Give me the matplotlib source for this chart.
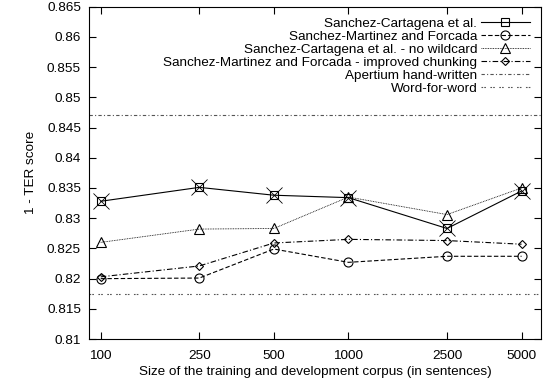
import matplotlib
matplotlib.use("Agg")
import matplotlib.pyplot as plt

plt.rcParams['font.family'] = ['Liberation Sans', 'DejaVu Sans']

# ukuran korpus (kalimat)
sizes = [100, 250, 500, 1000, 2500, 5000]

# nilai 1 - TER
sc = [0.8328, 0.8351, 0.8338, 0.8334, 0.8283, 0.8345]
smf = [0.8200, 0.8201, 0.8249, 0.8227, 0.8237, 0.8237]
sc_nowild = [0.8260, 0.8282, 0.8283, 0.8335, 0.8306, 0.8350]
smf_chunk = [0.8203, 0.8221, 0.8259, 0.8265, 0.8263, 0.8257]

apertium = 0.8470
word_for_word = 0.8174

xticks = [100, 250, 500, 1000, 2500, 5000]
yticks = [0.81, 0.815, 0.82, 0.825, 0.83, 0.835, 0.84, 0.845, 0.85, 0.855, 0.86, 0.865]

fs = 9.7

fig = plt.figure(figsize=(5.45, 3.88), dpi=100)
ax = fig.add_axes([0.164, 0.126, 0.829, 0.857])

lw = 0.8
ax.plot(sizes, sc, color='black', lw=lw, ls='-', marker='s', ms=6, mfc='none', mew=0.8,
        label='Sanchez-Cartagena et al.')
ax.plot(sizes, smf, color='black', lw=lw, ls=(0, (4, 2)), marker='o', ms=6.5, mfc='none', mew=0.8,
        label='Sanchez-Martinez and Forcada')
ax.plot(sizes, sc_nowild, color='black', lw=0.6, ls=(0, (1, 1)), marker='^', ms=6.5, mfc='none', mew=0.8,
        label='Sanchez-Cartagena et al. - no wildcard')
ax.plot(sizes, smf_chunk, color='black', lw=lw, ls=(0, (5, 2, 1, 2)), marker='D', ms=4.5, mfc='none', mew=0.8,
        label='Sanchez-Martinez and Forcada - improved chunking')
ax.axhline(apertium, color='#555555', lw=lw, ls=(0, (3, 2, 1, 2)), label='Apertium hand-written')
ax.axhline(word_for_word, color='#555555', lw=lw, ls=(0, (1.5, 1, 1.5, 4)), label='Word-for-word')
# tanda silang besar di atas seri utama
ax.plot(sizes, sc, ls='none', marker='x', ms=12, color='black', mew=0.6)

ax.set_xscale('log')
ax.set_xlim(90, 6000)
ax.set_ylim(0.81, 0.865)
ax.set_xticks(xticks)
ax.set_xticklabels([str(v) for v in xticks])
ax.minorticks_off()
ax.set_yticks(yticks)
ax.set_yticklabels(['%g' % v for v in yticks])
ax.tick_params(direction='in', length=5, width=0.8, top=True, right=True, labelsize=fs)
ax.tick_params(axis='y', pad=6)
ax.tick_params(axis='x', pad=8)
for s in ax.spines.values():
    s.set_linewidth(0.8)

ax.set_xlabel('Size of the training and development corpus (in sentences)', fontsize=fs, labelpad=3)
ax.set_ylabel('1 - TER score', fontsize=fs, labelpad=7)

ax.legend(loc='upper right', frameon=False, markerfirst=False, fontsize=fs,
          handlelength=3.7, handletextpad=0.25, labelspacing=0.04, borderaxespad=0.4)

plt.savefig('out.png', dpi=100)
